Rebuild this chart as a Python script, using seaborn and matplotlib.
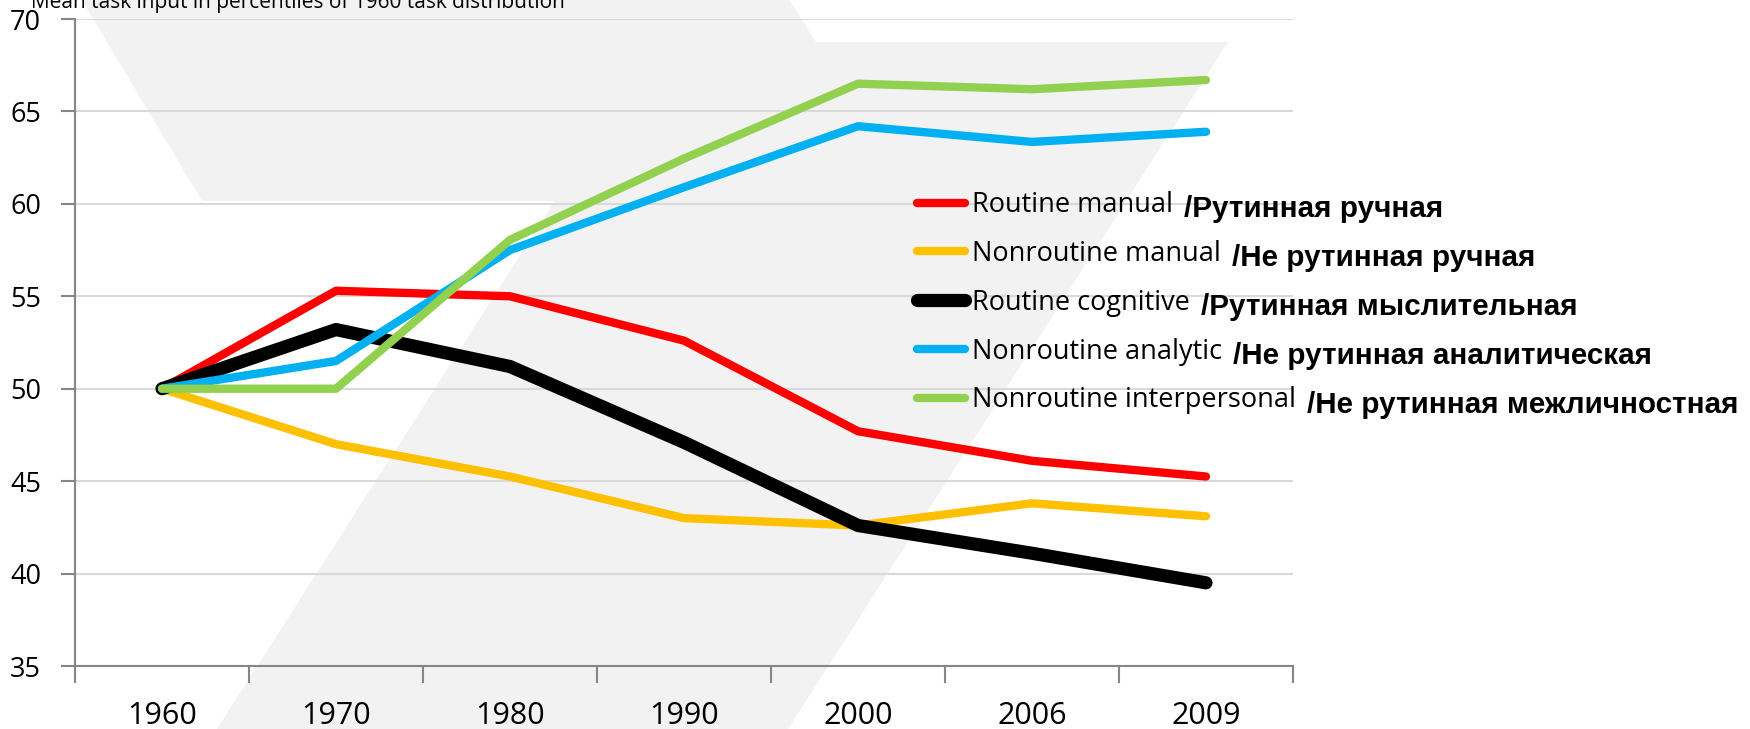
import numpy as np
import pandas as pd
import matplotlib
matplotlib.use("Agg")
import matplotlib.pyplot as plt
import seaborn as sns
from matplotlib.patches import Polygon

# values
years = ["1960", "1970", "1980", "1990", "2000", "2006", "2009"]
routine_manual = [50.0, 55.3, 55.0, 52.6, 47.7, 46.1, 45.25]
nonroutine_manual = [50.0, 47.0, 45.25, 43.0, 42.6, 43.8, 43.1]
routine_cognitive = [50.0, 53.2, 51.2, 47.1, 42.6, 41.1, 39.5]
nonroutine_analytic = [50.0, 51.5, 57.5, 60.9, 64.2, 63.35, 63.9]
nonroutine_interpersonal = [50.0, 50.0, 58.05, 62.45, 66.5, 66.2, 66.7]

names = ["Routine manual", "Nonroutine manual", "Routine cognitive",
         "Nonroutine analytic", "Nonroutine interpersonal"]
names_ru = ["/Рутинная ручная", "/Не рутинная ручная", "/Рутинная мыслительная",
            "/Не рутинная аналитическая", "/Не рутинная межличностная"]
colors = ["#ff0000", "#ffc000", "#000000", "#00b0f0", "#92d050"]
widths = [6, 6, 9.5, 6, 6]

values = [routine_manual, nonroutine_manual, routine_cognitive,
          nonroutine_analytic, nonroutine_interpersonal]
df = pd.DataFrame({
    "pos": list(range(len(years))) * len(names),
    "task": [n for n in names for _ in years],
    "value": [v for vals in values for v in vals],
})

sns.set_style("white")
plt.rcParams["font.family"] = ["Open Sans", "DejaVu Sans"]
plt.rcParams["text.color"] = "black"

W, H = 1750, 729
fig = plt.figure(figsize=(W / 100, H / 100), dpi=100)

# grey decorative background shape (figure pixels, y from top)
shape = [(82, 0), (789, 0), (816, 42), (1228, 42), (788, 729),
         (217, 729), (555, 201), (202, 201)]
fig.patches.append(Polygon([(x / W, 1 - y / H) for x, y in shape], closed=True,
                           transform=fig.transFigure, facecolor="#f2f2f2",
                           edgecolor="none", zorder=-5))

ax = fig.add_axes([75 / W, 1 - 666 / H, 1218 / W, 647 / H])
ax.set_facecolor("none")

for name, color, lw in zip(names, colors, widths):
    sns.lineplot(data=df[df["task"] == name], x="pos", y="value", color=color,
                 linewidth=lw, label=name, errorbar=None, ax=ax,
                 solid_capstyle="round", solid_joinstyle="round")

ax.set_xlim(-0.5, 6.5)
ax.set_ylim(35, 70)
ax.set_yticks(np.arange(35, 71, 5))
ax.set_xticks(np.arange(-0.5, 7, 1))
ax.set_xticklabels([])
ax.set_xticks(range(len(years)), minor=True)
ax.set_xticklabels(years, minor=True)
ax.set_xlabel("")
ax.set_ylabel("")

ax.tick_params(axis="x", which="major", direction="out", length=12, width=1.5,
               color="#868686", bottom=True)
ax.tick_params(axis="x", which="minor", length=0, pad=25, labelsize=22,
               labelcolor="black", bottom=True)
ax.tick_params(axis="y", direction="out", length=10, width=1.5, color="#868686",
               pad=14.4, labelsize=19.5, labelcolor="black", left=True)
ax.yaxis.grid(True, color="#d9d9d9", linewidth=1.5)
ax.xaxis.grid(False)
sns.despine(ax=ax)
for side in ["left", "bottom"]:
    ax.spines[side].set_color("#868686")
    ax.spines[side].set_linewidth(1.5)

handles, labels = ax.get_legend_handles_labels()
leg = ax.legend(handles, labels, loc="upper left",
                bbox_to_anchor=(917 / W, 1 - 191 / H), bbox_transform=fig.transFigure,
                frameon=False, borderpad=0, borderaxespad=0, handlelength=1.78,
                handletextpad=0.26, labelspacing=0.77,
                prop={"family": "Open Sans", "size": 19.5})
for t in leg.get_texts():
    t.set_color("black")

for txt, ru in zip(leg.get_texts(), names_ru):
    ax.annotate(ru, xy=(1, 0), xycoords=txt, xytext=(8, -3),
                textcoords="offset points", ha="left", va="bottom",
                fontsize=21.3, fontweight="bold", color="black",
                family=["Liberation Sans", "DejaVu Sans"],
                annotation_clip=False, zorder=10)

fig.text(31 / W, 1 - 8 / H, "Mean task input in percentiles of 1960 task distribution",
         fontsize=15, ha="left", va="baseline", color="black")

fig.canvas.draw()
fig.savefig("out.png", dpi=100)
